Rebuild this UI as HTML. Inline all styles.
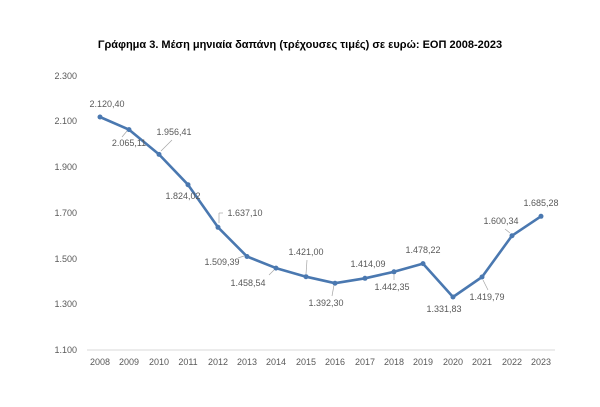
<!DOCTYPE html>
<html><head><meta charset="utf-8"><style>
body{margin:0;background:#fff}
svg text{font-family:"Liberation Sans",sans-serif;fill:#595959}
</style></head><body>
<svg width="600" height="402" viewBox="0 0 600 402">
<rect width="600" height="402" fill="#fff"/>
<text x="300" y="48" text-anchor="middle" style="font-weight:bold;font-size:11px;fill:#000">Γράφημα 3. Μέση μηνιαία δαπάνη (τρέχουσες τιμές) σε ευρώ: ΕΟΠ 2008-2023</text>
<g font-size="9" text-anchor="end">
<text x="77" y="79">2.300</text>
<text x="77" y="124">2.100</text>
<text x="77" y="170">1.900</text>
<text x="77" y="216">1.700</text>
<text x="77" y="262">1.500</text>
<text x="77" y="307">1.300</text>
<text x="77" y="353">1.100</text>
</g>
<line x1="87" y1="350" x2="555" y2="350" stroke="#d9d9d9" stroke-width="1"/>
<g font-size="9" text-anchor="middle">
<text x="100" y="365">2008</text><text x="129" y="365">2009</text><text x="159" y="365">2010</text><text x="188" y="365">2011</text>
<text x="218" y="365">2012</text><text x="247" y="365">2013</text><text x="276" y="365">2014</text><text x="306" y="365">2015</text>
<text x="335" y="365">2016</text><text x="365" y="365">2017</text><text x="394" y="365">2018</text><text x="423" y="365">2019</text>
<text x="453" y="365">2020</text><text x="482" y="365">2021</text><text x="512" y="365">2022</text><text x="541" y="365">2023</text>
</g>
<polyline fill="none" stroke="#4a78b0" stroke-width="2.6" stroke-linejoin="round"
points="100,117 129,129.6 159,154.4 188,184.7 218,227.3 247,256.5 276,268.1 306,276.7 335,283.2 365,278.3 394,271.8 423,263.6 453,297 482,277 512,235.7 541,216.3"/>
<g fill="#4a78b0">
<circle cx="100" cy="117" r="2.5"/><circle cx="129" cy="129.6" r="2.5"/><circle cx="159" cy="154.4" r="2.5"/><circle cx="188" cy="184.7" r="2.5"/>
<circle cx="218" cy="227.3" r="2.5"/><circle cx="247" cy="256.5" r="2.5"/><circle cx="276" cy="268.1" r="2.5"/><circle cx="306" cy="276.7" r="2.5"/>
<circle cx="335" cy="283.2" r="2.5"/><circle cx="365" cy="278.3" r="2.5"/><circle cx="394" cy="271.8" r="2.5"/><circle cx="423" cy="263.6" r="2.5"/>
<circle cx="453" cy="297" r="2.5"/><circle cx="482" cy="277" r="2.5"/><circle cx="512" cy="235.7" r="2.5"/><circle cx="541" cy="216.3" r="2.5"/>
</g>
<g stroke="#a6a6a6" stroke-width="0.7" fill="none">
<line x1="127" y1="131" x2="122" y2="137"/>
<line x1="161" y1="151" x2="172" y2="140"/>
<line x1="219" y1="223" x2="219" y2="213"/><line x1="219" y1="213" x2="223" y2="213"/>
<line x1="244" y1="256" x2="238" y2="258"/>
<line x1="274" y1="270" x2="269" y2="275"/>
<line x1="306" y1="274" x2="307" y2="260"/>
<line x1="334" y1="285" x2="332" y2="296"/>
<line x1="394" y1="274" x2="394" y2="280"/>
<line x1="483" y1="280" x2="488" y2="290"/>
<line x1="510" y1="233" x2="505" y2="229"/>
</g>
<g font-size="9" text-anchor="middle">
<text x="107" y="107">2.120,40</text>
<text x="129" y="146">2.065,11</text>
<text x="174" y="135">1.956,41</text>
<text x="183" y="199">1.824,02</text>
<text x="245" y="216">1.637,10</text>
<text x="222" y="265">1.509,39</text>
<text x="248" y="286">1.458,54</text>
<text x="306" y="255">1.421,00</text>
<text x="326" y="306">1.392,30</text>
<text x="368" y="267">1.414,09</text>
<text x="392" y="290">1.442,35</text>
<text x="423" y="253">1.478,22</text>
<text x="444" y="312">1.331,83</text>
<text x="487" y="300">1.419,79</text>
<text x="501" y="224">1.600,34</text>
<text x="541" y="206">1.685,28</text>
</g>
</svg>
</body></html>
